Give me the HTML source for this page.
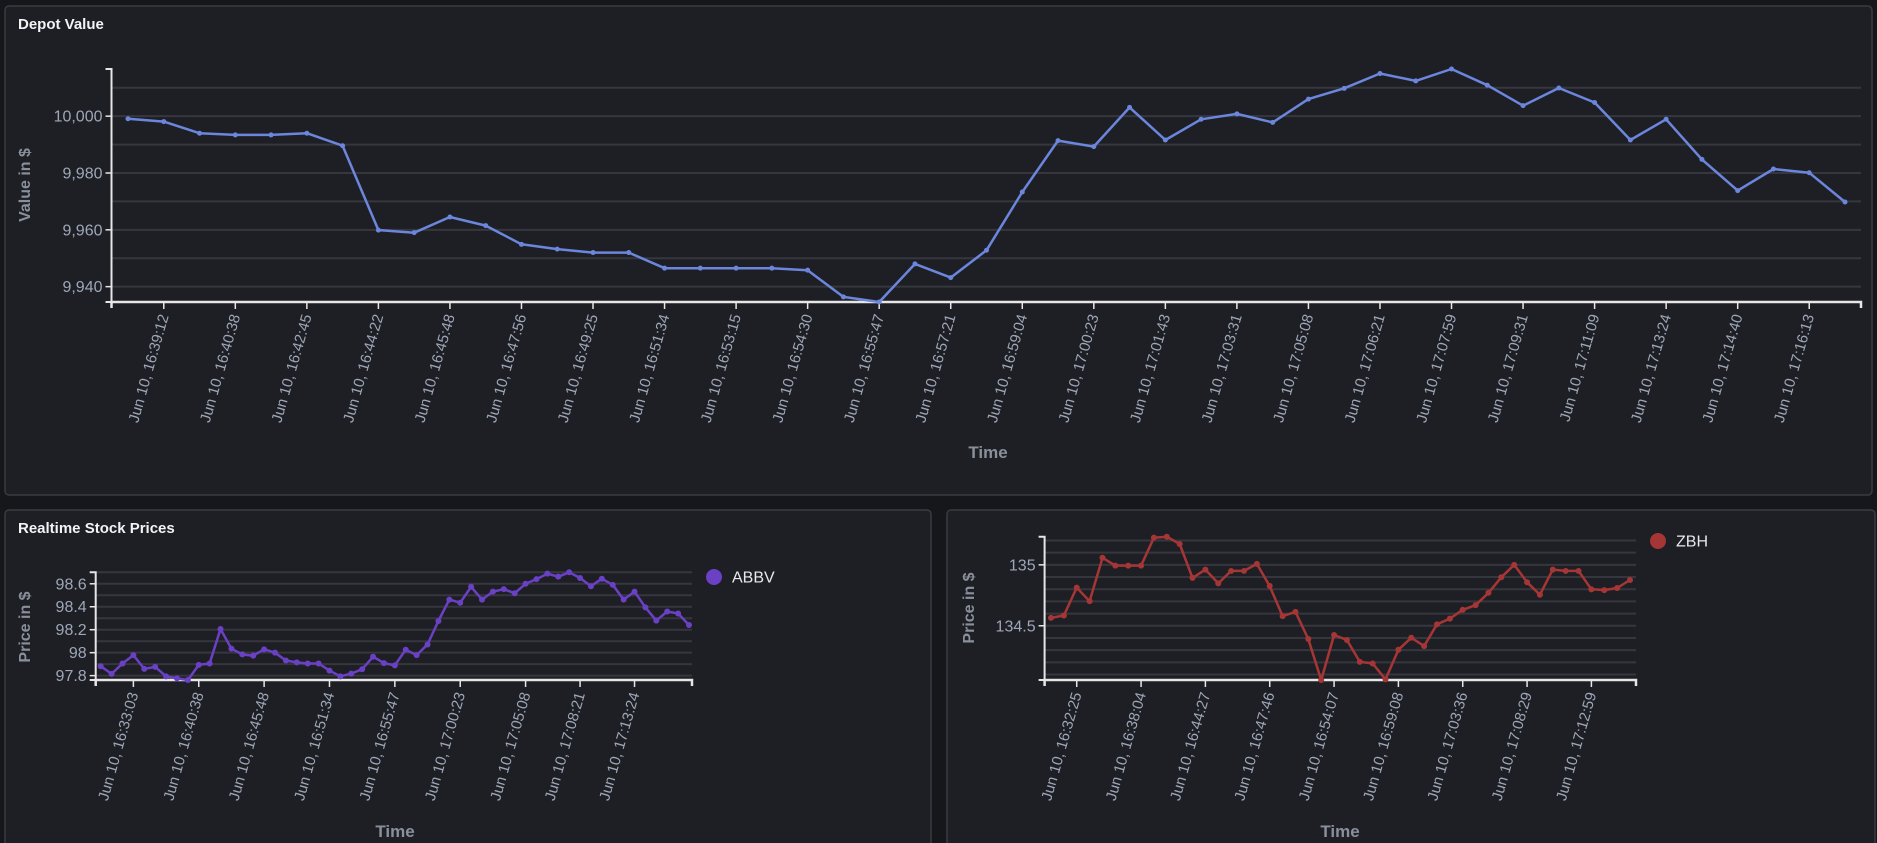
<!DOCTYPE html>
<html><head><meta charset="utf-8">
<style>
html,body{margin:0;padding:0;background:#16171b;width:1877px;height:843px;overflow:hidden;font-family:"Liberation Sans",sans-serif;}
svg{position:absolute;left:0;top:0}
</style></head>
<body>
<svg id="root" width="1877" height="843" viewBox="0 0 1877 843">
  <rect x="5" y="6" width="1867" height="489" rx="4" fill="#1e1f24" stroke="#3a3b42" stroke-width="1.5"/>
  <rect x="5" y="510" width="926" height="345" rx="4" fill="#1e1f24" stroke="#3a3b42" stroke-width="1.5"/>
  <rect x="947" y="510" width="928" height="345" rx="4" fill="#1e1f24" stroke="#3a3b42" stroke-width="1.5"/>
  <text x="18" y="29" fill="#f2f3f5" font-size="15" font-weight="bold">Depot Value</text>
  <text x="18" y="533" fill="#f2f3f5" font-size="15" font-weight="bold">Realtime Stock Prices</text>
  <g id="g-main"></g>
  <g id="g-abbv"></g>
  <g id="g-zbh"></g>
</svg>
<script>
// ---- Depot Value data ----
const depotValues = [9999.1,9998.1,9994,9993.4,9993.4,9994,9989.6,9959.9,9959,9964.5,9961.5,9954.9,9953.2,9952,9952,9946.5,9946.5,9946.5,9946.5,9945.8,9936.4,9934.6,9948,9943.2,9952.8,9973.3,9991.4,9989.3,10003.1,9991.6,9998.9,10000.8,9997.8,10006,10009.8,10015,10012.4,10016.6,10010.9,10003.7,10009.9,10004.8,9991.6,9998.9,9984.8,9973.8,9981.4,9980.1,9969.8];
const depotTickIdx = [1,3,5,7,9,11,13,15,17,19,21,23,25,27,29,31,33,35,37,39,41,43,45,47];
const depotTickLabels = ["16:39:12","16:40:38","16:42:45","16:44:22","16:45:48","16:47:56","16:49:25","16:51:34","16:53:15","16:54:30","16:55:47","16:57:21","16:59:04","17:00:23","17:01:43","17:03:31","17:05:08","17:06:21","17:07:59","17:09:31","17:11:09","17:13:24","17:14:40","17:16:13"];
const depotYTicks = [9940,9960,9980,10000];
const depotGrid = [9940,9950,9960,9970,9980,9990,10000,10010];

// ---- ABBV data ----
const abbvValues = [97.882,97.815,97.906,97.979,97.859,97.876,97.794,97.776,97.762,97.894,97.906,98.206,98.035,97.985,97.974,98.029,98.0,97.932,97.915,97.906,97.906,97.844,97.794,97.818,97.856,97.965,97.909,97.889,98.026,97.979,98.071,98.276,98.462,98.435,98.574,98.462,98.532,98.553,98.518,98.6,98.641,98.688,98.662,98.7,98.65,98.579,98.644,98.591,98.462,98.532,98.394,98.279,98.359,98.341,98.241];
const abbvTickIdx = [3,9,15,21,27,33,39,44,49];
const abbvTickLabels = ["16:33:03","16:40:38","16:45:48","16:51:34","16:55:47","17:00:23","17:05:08","17:08:21","17:13:24"];
const abbvYTicks = [97.8,98.0,98.2,98.4,98.6];
const abbvGrid = [97.8,97.9,98.0,98.1,98.2,98.3,98.4,98.5,98.6,98.7];

// ---- ZBH data ----
const zbhValues = [134.565,134.584,134.813,134.702,135.058,134.994,134.994,134.994,135.223,135.231,135.171,134.893,134.961,134.848,134.950,134.950,135.008,134.826,134.579,134.614,134.391,134.055,134.424,134.383,134.204,134.19,134.06,134.303,134.402,134.333,134.512,134.559,134.631,134.669,134.771,134.898,135.0,134.857,134.755,134.961,134.950,134.950,134.799,134.793,134.810,134.876];
const zbhTickIdx = [2,7,12,17,22,27,32,37,42];
const zbhTickLabels = ["16:32:25","16:38:04","16:44:27","16:47:46","16:54:07","16:59:08","17:03:36","17:08:29","17:12:59"];
const zbhYTicks = [134.5,135.0];
const zbhGrid = [134.1,134.2,134.3,134.4,134.5,134.6,134.7,134.8,134.9,135.0,135.1,135.2];

const NS = "http://www.w3.org/2000/svg";
function mk(parent, tag, attrs, text) {
  const el = document.createElementNS(NS, tag);
  for (const k in attrs) el.setAttribute(k, attrs[k]);
  if (text !== undefined) el.textContent = text;
  parent.appendChild(el);
  return el;
}

function drawChart(g, cfg, values, tickIdx, tickLabels, yTicks, grid) {
  const minV = Math.min(...values), maxV = Math.max(...values);
  const y = v => cfg.bottom - (v - minV) / (maxV - minV) * (cfg.bottom - cfg.top);
  const step = (cfg.lastX - cfg.firstX) / (values.length - 1);
  const x = i => cfg.firstX + i * step;

  grid.forEach(v => {
    const yy = y(v);
    if (yy < cfg.top - 0.5 || yy > cfg.bottom + 0.5) return;
    const l = mk(g, "line", {x1: cfg.left, x2: cfg.right, y1: yy, y2: yy, stroke: "#36373e", "stroke-width": 2});
    
    
  });
  const ya = mk(g, "path", {d: `M${cfg.left-6},${cfg.top}H${cfg.left}V${cfg.bottom}H${cfg.left-6}`, fill: "none", stroke: "#e6e6e6", "stroke-width": 2});
  
  
  yTicks.forEach(v => {
    const yy = y(v);
    const tl = mk(g, "line", {x1: cfg.left-6, x2: cfg.left, y1: yy, y2: yy, stroke: "#e6e6e6", "stroke-width": 1.5});
    
    
    const t = mk(g, "text", {x: cfg.left-9, y: yy+5.5, "text-anchor": "end", fill: "#9ea7b8", "font-size": 16}, cfg.fmt(v));
    
    
  });
  const xa = mk(g, "path", {d: `M${cfg.left},${cfg.bottom+6}V${cfg.bottom}H${cfg.right}V${cfg.bottom+6}`, fill: "none", stroke: "#e6e6e6", "stroke-width": 2.5});
  
  
  tickIdx.forEach((ti, k) => {
    const xx = x(ti);
    const tl = mk(g, "line", {x1: xx, x2: xx, y1: cfg.bottom, y2: cfg.bottom+7, stroke: "#e6e6e6", "stroke-width": 1.5});
    
    
    const ty = cfg.bottom + 14;
    const t = mk(g, "text", {x: xx+5, y: ty, "text-anchor": "end", fill: "#9ea7b8", "font-size": 15, transform: `rotate(-74 ${xx+5} ${ty})`}, "Jun 10, " + tickLabels[k]);
    
    
  });
  const d = values.map((v, i) => (i ? "L" : "M") + x(i).toFixed(1) + "," + y(v).toFixed(1)).join("");
  const p = mk(g, "path", {d: d, fill: "none", stroke: cfg.color, "stroke-width": 2.5, "stroke-linejoin": "round"});
  
  
  values.forEach((v, i) => {
    const c = mk(g, "circle", {cx: x(i), cy: y(v), r: cfg.r, fill: cfg.color});
    
    
  });
  const yt = mk(g, "text", {x: cfg.yTitleX, y: cfg.yTitleY, "text-anchor": "middle", fill: "#8a909b", "font-size": 16, "font-weight": "bold", transform: `rotate(-90 ${cfg.yTitleX} ${cfg.yTitleY})`}, cfg.yTitle);
  
  
  const xt = mk(g, "text", {x: cfg.xTitleX, y: cfg.xTitleY, "text-anchor": "middle", fill: "#8a909b", "font-size": 17, "font-weight": "bold"}, "Time");
  
  
  if (cfg.legend) {
    const lc = mk(g, "circle", {cx: cfg.legendX, cy: cfg.legendY, r: 8, fill: cfg.color});
    
    
    const lt = mk(g, "text", {x: cfg.legendX+18, y: cfg.legendY+5.5, fill: "#e8e9ec", "font-size": 16}, cfg.legend);
    
    
  }
}

drawChart(document.getElementById("g-main"),
  {left:111.5, right:1861, top:69, bottom:302, firstX:128, lastX:1845, color:"#6b86dc", r:2.5,
   fmt: v => v.toLocaleString("en-US"), yTitle:"Value in $", yTitleX:30, yTitleY:185, xTitleX:988, xTitleY:458},
  depotValues, depotTickIdx, depotTickLabels, depotYTicks, depotGrid);

drawChart(document.getElementById("g-abbv"),
  {left:95.7, right:692, top:572.3, bottom:680, firstX:100.7, lastX:689, color:"#6a40c4", r:3,
   fmt: v => (Math.round(v*10)/10).toString(), yTitle:"Price in $", yTitleX:30, yTitleY:627, xTitleX:395, xTitleY:837,
   legend:"ABBV", legendX:714, legendY:577},
  abbvValues, abbvTickIdx, abbvTickLabels, abbvYTicks, abbvGrid);

drawChart(document.getElementById("g-zbh"),
  {left:1044.6, right:1636, top:536.7, bottom:680, firstX:1051, lastX:1630, color:"#a63636", r:3,
   fmt: v => (v % 1 === 0 ? v.toFixed(0) : v.toString()), yTitle:"Price in $", yTitleX:974, yTitleY:608, xTitleX:1340, xTitleY:837,
   legend:"ZBH", legendX:1658, legendY:541},
  zbhValues, zbhTickIdx, zbhTickLabels, zbhYTicks, zbhGrid);
</script>
</body></html>
